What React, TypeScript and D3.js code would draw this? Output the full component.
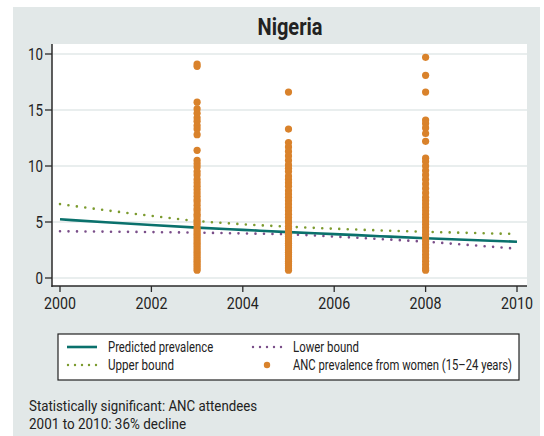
import React, { useLayoutEffect, useRef, useState } from 'react';
import * as d3 from 'd3';

// data
const years = [2000, 2001, 2002, 2003, 2004, 2005, 2006, 2007, 2008, 2009, 2010];
const predicted = [5.24, 4.98, 4.73, 4.5, 4.3, 4.1, 3.92, 3.73, 3.55, 3.39, 3.24];
const upperBound = [6.6, 6.05, 5.55, 5.09, 4.8, 4.58, 4.4, 4.25, 4.13, 4.02, 3.93];
const lowerBound = [4.17, 4.14, 4.1, 4.05, 3.98, 3.9, 3.7, 3.48, 3.24, 2.93, 2.62];

const anc2003 = [19.1, 18.9, 15.7, 15.1, 14.7, 14.3, 14.0, 13.6, 13.3, 12.8, 11.4, 10.5, 10.2, 9.9, 9.5, 9.2, 8.8, 8.5, 8.2, 7.9, 7.6, 7.3, 7.0, 6.8, 6.5, 6.2, 6.0, 5.7, 5.5, 5.2, 5.0, 4.8, 4.5, 4.3, 4.1, 3.9, 3.7, 3.5, 3.3, 3.1, 2.9, 2.7, 2.5, 2.3, 2.1, 1.9, 1.7, 1.5, 1.3, 1.1, 0.9, 0.7];
const anc2005 = [16.6, 13.3, 12.1, 11.7, 11.3, 10.9, 10.5, 10.1, 9.8, 9.5, 9.1, 8.8, 8.5, 8.2, 7.8, 7.5, 7.2, 6.9, 6.6, 6.3, 6.0, 5.7, 5.4, 5.1, 4.9, 4.6, 4.4, 4.1, 3.9, 3.7, 3.5, 3.3, 3.1, 2.9, 2.7, 2.5, 2.3, 2.1, 1.9, 1.7, 1.5, 1.3, 1.1, 0.9, 0.7];
const anc2008 = [19.7, 18.1, 16.6, 14.1, 13.8, 13.4, 12.9, 12.2, 10.7, 10.4, 10.0, 9.6, 9.2, 8.8, 8.4, 8.0, 7.6, 7.2, 6.9, 6.6, 6.3, 6.0, 5.7, 5.4, 5.1, 4.8, 4.5, 4.2, 3.9, 3.6, 3.3, 3.0, 2.7, 2.4, 2.1, 1.8, 1.5, 1.2, 0.9, 0.7];

const xTicks = [2000, 2002, 2004, 2006, 2008, 2010];
const yTicks = [0, 5, 10, 15, 20];
const yTickLabels = ['0', '5', '10', '15', '10'];

const FONT = 'Roboto, "DejaVu Sans", sans-serif';
const TEAL = '#0a716c';
const GREEN = '#7c9b2f';
const PURPLE = '#7a4e89';
const ORANGE = '#d9822b';
const INK = '#222';

// condensed look: measure the text and squeeze it horizontally to its width in the reference
const Txt: React.FC<{ x: number; y: number; w: number; size: number; anchor?: string; bold?: boolean; dy?: string; children: string }> =
  ({ x, y, w, size, anchor, bold, dy, children }) => {
    const ref = useRef<SVGTextElement>(null);
    const [s, setS] = useState(0.8);
    useLayoutEffect(() => {
      if (!ref.current) return;
      const len = ref.current.getComputedTextLength();
      if (len > 0) setS(w / len);
    }, [w, children, size]);
    return (
      <g transform={`translate(${x},${y}) scale(${s},1)`}>
        <text ref={ref} dy={dy} fontSize={size} fill={INK} textAnchor={anchor || 'start'}
          fontWeight={bold ? 'bold' : 'normal'}>{children}</text>
      </g>
    );
  };

export default function App() {
  const width = 544;
  const height = 436;

  const x = d3.scaleLinear().domain([2000, 2010]).range([60, 517]);
  const y = d3.scaleLinear().domain([0, 20]).range([278, 54]);

  const line = d3.line<number>()
    .x((_d, i) => x(years[i]))
    .y(d => y(d))
    .curve(d3.curveMonotoneX);

  const points = [
    ...anc2003.map(v => ({ year: 2003, v })),
    ...anc2005.map(v => ({ year: 2005, v })),
    ...anc2008.map(v => ({ year: 2008, v })),
  ];

  return (
    <svg width={width} height={height} style={{ position: 'absolute', left: 0, top: 0, display: 'block' }} fontFamily={FONT}>
      <rect x={0} y={0} width={width} height={height} fill="#fff" />
      <rect x={13} y={7} width={527} height={429} fill="#e2e8e8" />

      <Txt x={290} y={35} w={65} size={23} anchor="middle" bold>Nigeria</Txt>

      {/* plot area */}
      <rect x={52} y={44} width={475} height={242} fill="#fff" />
      {yTicks.map(t => (
        <line key={t} x1={53} x2={527} y1={y(t)} y2={y(t)} stroke="#e2e8e8" strokeWidth={1.5} />
      ))}

      <path d={line(upperBound) || ''} fill="none" stroke={GREEN} strokeWidth={2.6} strokeDasharray="0 8.5" strokeLinecap="round" />
      <path d={line(lowerBound) || ''} fill="none" stroke={PURPLE} strokeWidth={2.6} strokeDasharray="0 8.5" strokeLinecap="round" />
      <path d={line(predicted) || ''} fill="none" stroke={TEAL} strokeWidth={2.6} />

      {points.map((p, i) => (
        <circle key={i} cx={x(p.year)} cy={y(p.v)} r={3.6} fill={ORANGE} />
      ))}

      {/* axes */}
      <line x1={52} x2={52} y1={44} y2={287} stroke="#2a2a2a" strokeWidth={1.5} />
      <line x1={51.5} x2={527} y1={286} y2={286} stroke="#2a2a2a" strokeWidth={1.5} />
      {yTicks.map((t, i) => (
        <g key={t}>
          <line x1={45} x2={52} y1={y(t)} y2={y(t)} stroke="#2a2a2a" strokeWidth={1.3} />
          <Txt x={43} y={y(t)} dy="0.36em" w={yTickLabels[i].length * 7.5} size={16.5} anchor="end">{yTickLabels[i]}</Txt>
        </g>
      ))}
      {xTicks.map(t => (
        <g key={t}>
          <line x1={x(t)} x2={x(t)} y1={286} y2={292} stroke="#2a2a2a" strokeWidth={1.3} />
          <Txt x={x(t)} y={309} w={32} size={16.5} anchor="middle">{String(t)}</Txt>
        </g>
      ))}

      {/* legend */}
      <rect x={58} y={334} width={461} height={46} fill="#fff" stroke="#222" strokeWidth={1.2} />
      <line x1={67} x2={97} y1={347} y2={347} stroke={TEAL} strokeWidth={2.6} />
      <Txt x={108} y={347} dy="0.35em" w={105} size={14}>Predicted prevalence</Txt>
      <line x1={68} x2={97} y1={365} y2={365} stroke={GREEN} strokeWidth={2.4} strokeDasharray="0 7" strokeLinecap="round" />
      <Txt x={108} y={365} dy="0.35em" w={66} size={14}>Upper bound</Txt>
      <line x1={253} x2={283} y1={347} y2={347} stroke={PURPLE} strokeWidth={2.4} strokeDasharray="0 7" strokeLinecap="round" />
      <Txt x={293} y={347} dy="0.35em" w={66} size={14}>Lower bound</Txt>
      <circle cx={267} cy={365} r={3.2} fill={ORANGE} />
      <Txt x={293} y={365} dy="0.35em" w={219} size={14}>ANC prevalence from women (15–24 years)</Txt>

      {/* footnote */}
      <Txt x={29} y={411} w={228} size={15.5}>Statistically significant: ANC attendees</Txt>
      <Txt x={29} y={429} w={157} size={15.5}>2001 to 2010: 36% decline</Txt>
    </svg>
  );
}
